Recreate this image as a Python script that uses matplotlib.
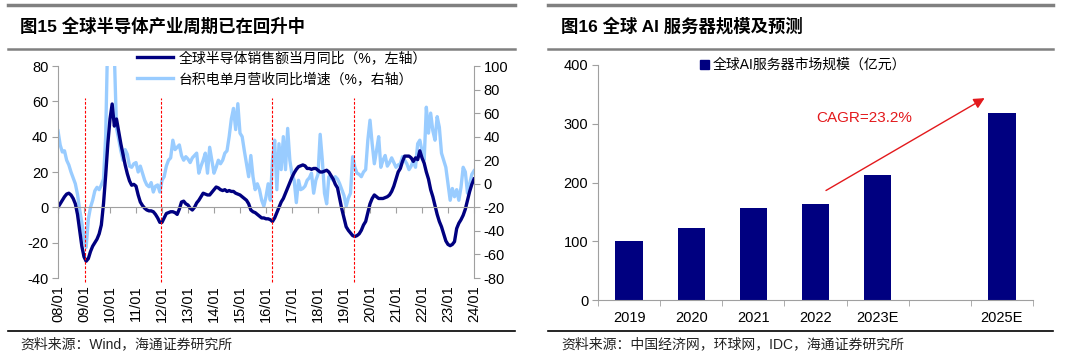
import matplotlib.pyplot as plt
import numpy as np
from matplotlib.lines import Line2D
from matplotlib.patches import Patch

plt.rcParams['font.family'] = ['Liberation Sans', 'Noto Sans CJK SC']
plt.rcParams['axes.unicode_minus'] = False

# ---- 左图数据：2008/01 - 2024/01 月度 ----
semi_yoy = [
    0, 2, 4, 6, 7.5, 8, 7, 5, 2, -4, -13, -22,                      # 2008
    -28, -30.5, -29, -25, -22, -20, -18, -15, -10, 2, 18, 36,       # 2009
    50, 58.5, 46, 50, 43, 36, 30, 24, 19, 15, 12.5, 13,             # 2010
    12, 7, 3, 1, -0.5, -1.5, -2, -2, -2.5, -4, -6, -8.5,            # 2011
    -8.5, -6, -3.5, -3, -2.5, -2.5, -3, -4, -1, 3, 3.5, 2,          # 2012
    1.3, -0.5, -1.5, 0, 2.5, 4, 6, 8, 7.5, 7, 7, 8.5,               # 2013
    10, 11.5, 11, 10, 9.5, 10, 9, 9.5, 9, 9, 8, 7.5,                # 2014
    7, 6, 5, 4, 2, -1.5, -2.5, -3, -4, -5, -6, -6,                  # 2015
    -6.5, -6.5, -7, -8, -6, -3, 0, 3, 5, 8, 11, 14,                 # 2016
    17, 19.5, 21.5, 23, 23.5, 24, 23.5, 22, 22, 21.5, 22, 22,       # 2017
    21, 20, 20, 20.5, 21, 20, 18, 16, 13, 11, 5, -1,                # 2018
    -6, -11, -13, -14.5, -16, -16.5, -16, -15, -13, -10, -8, -3,    # 2019
    2, 5, 7, 6, 5, 5, 5, 5.5, 6, 7, 9, 12,                          # 2020
    16, 20, 22, 26, 29, 29, 29, 28, 26, 28, 27, 32,                 # 2021
    28, 25, 20, 16, 10, 6, 1, -4, -8, -11, -15, -19,                # 2022
    -21, -21.7, -21, -19.4, -12, -9, -7, -4.5, -1, 4, 9, 13,        # 2023
    16,                                                             # 2024/01
]
tsmc_yoy = [
    45, 33, 27, 28, 20, 16, 10, 5, 0, -9, -22, -33,                 # 2008
    -46, -54, -30, -20, -14, -6, -3, -5, -1, 4, 40, 130,            # 2009
    160, 150, 110, 47, 38, 28, 20, 29, 25, 15, 14, 17,              # 2010
    18, 10, 15, 9, 3, -1, -2.5, 1, -7, -2, -1, -7,                  # 2011
    3, 6, 15, 20, 22, 37, 29, 31, 33, 24, 20, 23,                   # 2012
    21, 18, 22, 24, 26, 9, 15, 20, 26, 9, 31, 20,                   # 2013
    9, 14, 20, 17, 20, 26, 28, 40, 55, 64, 46, 68,                  # 2014
    43, 40, 28, 17, 6, 24, 6, -5, 0, -5, -14, -19,                  # 2015
    -11, 0, -14, 20, 37, -5, 34, 12, 40, 12, 47, 20,                # 2016
    8, 3, -16, 3, -5, -4, -2, 3, 5, 9, -8, 3,                       # 2017
    8, 42, 20, -8, -17, 6, 5, 3, 6, 4, 0, -5,                       # 2018
    -10, -19, -12, -8, 23, 14, 9, 8, 6, 10, 12, 37,                 # 2019
    54, 34, 17, 28, 40, 14, 20, 24, 15, 18, 22, 18,                 # 2020
    14, 16, 17, 23, 20, 17, 12, 15, 20, 14, 34, 37,                 # 2021
    28, 20, 65, 43, 60, 45, 37, 57, 48, 26, 20, 14,                 # 2022
    0, -14, -4, -11, -5, -14, -3, 14, 10, -8, 0, 8,                 # 2023
    11,                                                             # 2024/01
]
year_ticks = list(range(2008, 2025))
year_labels = ['08/01', '09/01', '10/01', '11/01', '12/01', '13/01', '14/01', '15/01',
               '16/01', '17/01', '18/01', '19/01', '20/01', '21/01', '22/01', '23/01', '24/01']
cycle_marks = [2009.04, 2011.96, 2016.23, 2019.38]   # 红色虚线：周期底部

# ---- 右图数据 ----
categories = ['2019', '2020', '2021', '2022', '2023E', '', '2025E']
server_size = [100, 122, 157, 164, 212, np.nan, 318]

NAVY = '#000080'
LIGHT = '#99ccff'
GRAY = '#a0a0a0'
RED = '#e3191c'

fig = plt.figure(figsize=(10.8, 3.62), dpi=100)
W, H = 1080, 362

def rule(x0, x1, y, lw, color):
    fig.add_artist(Line2D([x0 / W, x1 / W], [1 - y / H, 1 - y / H], lw=lw, color=color))

# 标题与分隔线
rule(8, 515, 5, 2.5, '#808080'); rule(8, 515, 49, 1.8, '#808080')
rule(548, 1053, 5, 2.5, '#808080'); rule(548, 1053, 49, 1.8, '#808080')
rule(8, 515, 331, 1.2, 'black'); rule(548, 1053, 331, 1.2, 'black')
fig.text(20 / W, 1 - 26 / H, '图15 全球半导体产业周期已在回升中', fontsize=12.5, fontweight='bold', va='center')
fig.text(561 / W, 1 - 26 / H, '图16 全球 AI 服务器规模及预测', fontsize=12.5, fontweight='bold', va='center')
fig.text(20 / W, 1 - 344 / H, '资料来源：Wind，海通证券研究所', fontsize=10, va='center', color='#222222')
fig.text(561 / W, 1 - 344 / H, '资料来源：中国经济网，环球网，IDC，海通证券研究所', fontsize=10, va='center', color='#222222')

# ---- 左图 ----
ax = fig.add_axes([58 / W, 1 - 278 / H, 416 / W, 212 / H])
x = 2008 + np.arange(len(semi_yoy)) / 12
ax2 = ax.twinx()
l2, = ax2.plot(x, tsmc_yoy, color=LIGHT, lw=2.4, label='台积电单月营收同比增速（%，右轴）')
l1, = ax.plot(x, semi_yoy, color=NAVY, lw=2.4, label='全球半导体销售额当月同比（%，左轴）')
ax.set_zorder(ax2.get_zorder() + 1)
ax.patch.set_visible(False)

ax.set_xlim(2008, 2024)
ax.set_ylim(-40, 80)
ax2.set_ylim(-80, 100)
ax.set_yticks(range(-40, 81, 20))
ax2.set_yticks(range(-80, 101, 20))

ax.vlines(cycle_marks, -42, 62, colors='red', linestyles=(0, (2.5, 1.5)), lw=0.8, clip_on=False)

for s in ['top', 'right']:
    ax.spines[s].set_visible(False)
for s in ['top', 'bottom', 'left']:
    ax2.spines[s].set_visible(False)
ax.spines['bottom'].set_position(('data', 0))
for s in ['left', 'bottom']:
    ax.spines[s].set_color(GRAY)
ax2.spines['right'].set_color(GRAY)

ax.set_xticks(year_ticks)
ax.tick_params(axis='x', labelbottom=False, length=4, color=GRAY)
ax.tick_params(axis='y', length=4, color=GRAY, labelsize=10.5, pad=3)
ax2.tick_params(axis='y', length=4, color=GRAY, labelsize=10.5, pad=3)

secax = ax.secondary_xaxis('bottom')
secax.set_xticks(year_ticks, labels=year_labels)
secax.tick_params(length=0, labelrotation=90, labelsize=10.5, pad=5)
secax.spines['bottom'].set_visible(False)

ax.legend([l1, l2], [l1.get_label(), l2.get_label()], loc='upper left',
          bbox_to_anchor=(0.19, 1.07), frameon=False, fontsize=10,
          handlelength=2.6, handletextpad=0.4, labelspacing=0.5,
          borderaxespad=0, borderpad=0)

# ---- 右图 ----
axr = fig.add_axes([598 / W, 1 - 300 / H, 435 / W, 235 / H])
pos = np.arange(len(categories))
axr.bar(pos, server_size, width=0.44, color=NAVY)
axr.set_xlim(-0.5, len(categories) - 0.5)
axr.set_ylim(0, 400)
axr.set_yticks(range(0, 401, 100))
axr.set_xticks(pos, labels=categories)
axr.set_xticks(np.arange(-0.5, len(categories), 1), minor=True)
axr.tick_params(axis='x', which='major', length=0, labelsize=10.5, pad=8)
axr.tick_params(axis='x', which='minor', length=4, color=GRAY)
axr.tick_params(axis='y', length=4, color=GRAY, labelsize=10.5, pad=3)
for s in ['top', 'right']:
    axr.spines[s].set_visible(False)
for s in ['left', 'bottom']:
    axr.spines[s].set_color(GRAY)

axr.legend([Patch(color=NAVY)], ['全球AI服务器市场规模（亿元）'], loc='center left',
           bbox_to_anchor=(0.235, 1.0), frameon=False, fontsize=10,
           handlelength=0.6, handleheight=0.6, handletextpad=0.3,
           borderaxespad=0, borderpad=0)

axr.annotate('', xy=(5.76, 346), xytext=(3.13, 184),
             arrowprops=dict(arrowstyle='-|>', color=RED, lw=1.0, mutation_scale=16))
axr.text(3.78, 310, 'CAGR=23.2%', color=RED, fontsize=11, ha='center', va='center')

fig.savefig('out.png', dpi=100)
